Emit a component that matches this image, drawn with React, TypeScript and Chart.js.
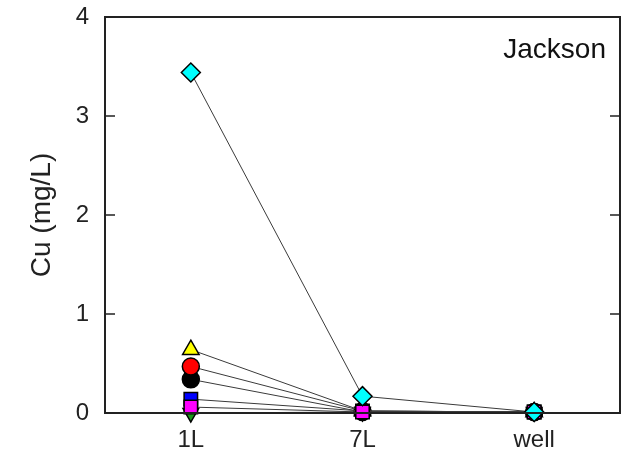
import React, { useEffect, useRef } from "react";
import { Chart, registerables } from "chart.js";

Chart.register(...registerables);

const categories = ["1L", "7L", "well"];
const yTicks = [0, 1, 2, 3, 4];
const cyanDiamond = [3.44, 0.17, 0.01];
const yellowTriangle = [0.64, 0.02, 0.01];
const redCircle = [0.47, 0.02, 0.01];
const blackCircle = [0.34, 0.01, 0.01];
const blueSquare = [0.14, 0.02, 0.01];
const magentaSquare = [0.06, 0.01, 0.01];
const greenTriangleDown = [0.0, 0.01, 0.01];
const panelLabel = "Jackson";
const yTitle = "Cu (mg/L)";

const FONT = "'Liberation Sans', Arial, sans-serif";

const framePlugin = {
  id: "frame",
  afterDraw(chart: any) {
    const { ctx, chartArea } = chart;
    const y = chart.scales.y;
    ctx.save();
    ctx.strokeStyle = "#222";
    ctx.lineWidth = 2;
    ctx.strokeRect(chartArea.left, chartArea.top, chartArea.right - chartArea.left, chartArea.bottom - chartArea.top);
    ctx.lineWidth = 1.5;
    yTicks.forEach((v) => {
      const py = y.getPixelForValue(v);
      ctx.beginPath();
      ctx.moveTo(chartArea.left, py);
      ctx.lineTo(chartArea.left + 10, py);
      ctx.moveTo(chartArea.right, py);
      ctx.lineTo(chartArea.right - 10, py);
      ctx.stroke();
    });
    ctx.fillStyle = "#111";
    ctx.font = `28px ${FONT}`;
    ctx.textAlign = "right";
    ctx.textBaseline = "alphabetic";
    ctx.fillText(panelLabel, chartArea.right - 14, chartArea.top + 41);
    ctx.restore();
  },
};

function ds(label: string, data: number[], color: string, style: string, radius: number, rotation = 0) {
  return {
    label,
    data,
    borderColor: "#3a3a3a",
    borderWidth: 1,
    pointStyle: style,
    pointRotation: rotation,
    pointRadius: radius,
    pointBackgroundColor: color,
    pointBorderColor: "#000",
    pointBorderWidth: 1.5,
    clip: false,
    tension: 0,
  };
}

export default function App() {
  const ref = useRef<HTMLCanvasElement>(null);
  useEffect(() => {
    const chart = new Chart(ref.current!, {
      type: "line",
      data: {
        labels: categories,
        datasets: [
          ds("cyan", cyanDiamond, "#00ffff", "rectRot", 9.5),
          ds("magenta", magentaSquare, "#ff00ff", "rect", 9.5),
          ds("yellow", yellowTriangle, "#ffff00", "triangle", 9.5),
          ds("blue", blueSquare, "#0000ff", "rect", 9.5),
          ds("red", redCircle, "#ff0000", "circle", 8.5),
          ds("black", blackCircle, "#000000", "circle", 8.5),
          ds("green", greenTriangleDown, "#1a9a1a", "triangle", 9, 180),
        ] as any,
      },
      options: {
        responsive: false,
        animation: false,
        layout: { padding: { top: 17, right: 10, left: 0, bottom: 0 } },
        plugins: { legend: { display: false }, tooltip: { enabled: false } },
        scales: {
          x: {
            type: "category",
            offset: true,
            grid: { display: false, drawTicks: false },
            border: { display: true, color: "#222", width: 2 },
            ticks: { padding: 13, color: "#222", font: { family: FONT, size: 24 } },
            afterFit: (s: any) => { s.height = 45; },
          },
          y: {
            min: 0,
            max: 4,
            grid: { display: false, drawTicks: false },
            border: { display: true, color: "#222", width: 2 },
            ticks: { stepSize: 1, padding: 16, color: "#222", font: { family: FONT, size: 24 } },
            title: { display: true, text: yTitle, color: "#222", font: { family: FONT, size: 28 }, padding: { top: 25, bottom: 0 } },
            afterFit: (s: any) => { s.width = 105; s.paddingTop = 0; s.paddingBottom = 0; },
          },
        },
      },
      plugins: [framePlugin],
    });
    return () => chart.destroy();
  }, []);
  return (
    <div style={{ position: "fixed", left: 0, top: 0, width: 631, height: 458, background: "#fff" }}>
      <canvas ref={ref} width={631} height={458} />
    </div>
  );
}
